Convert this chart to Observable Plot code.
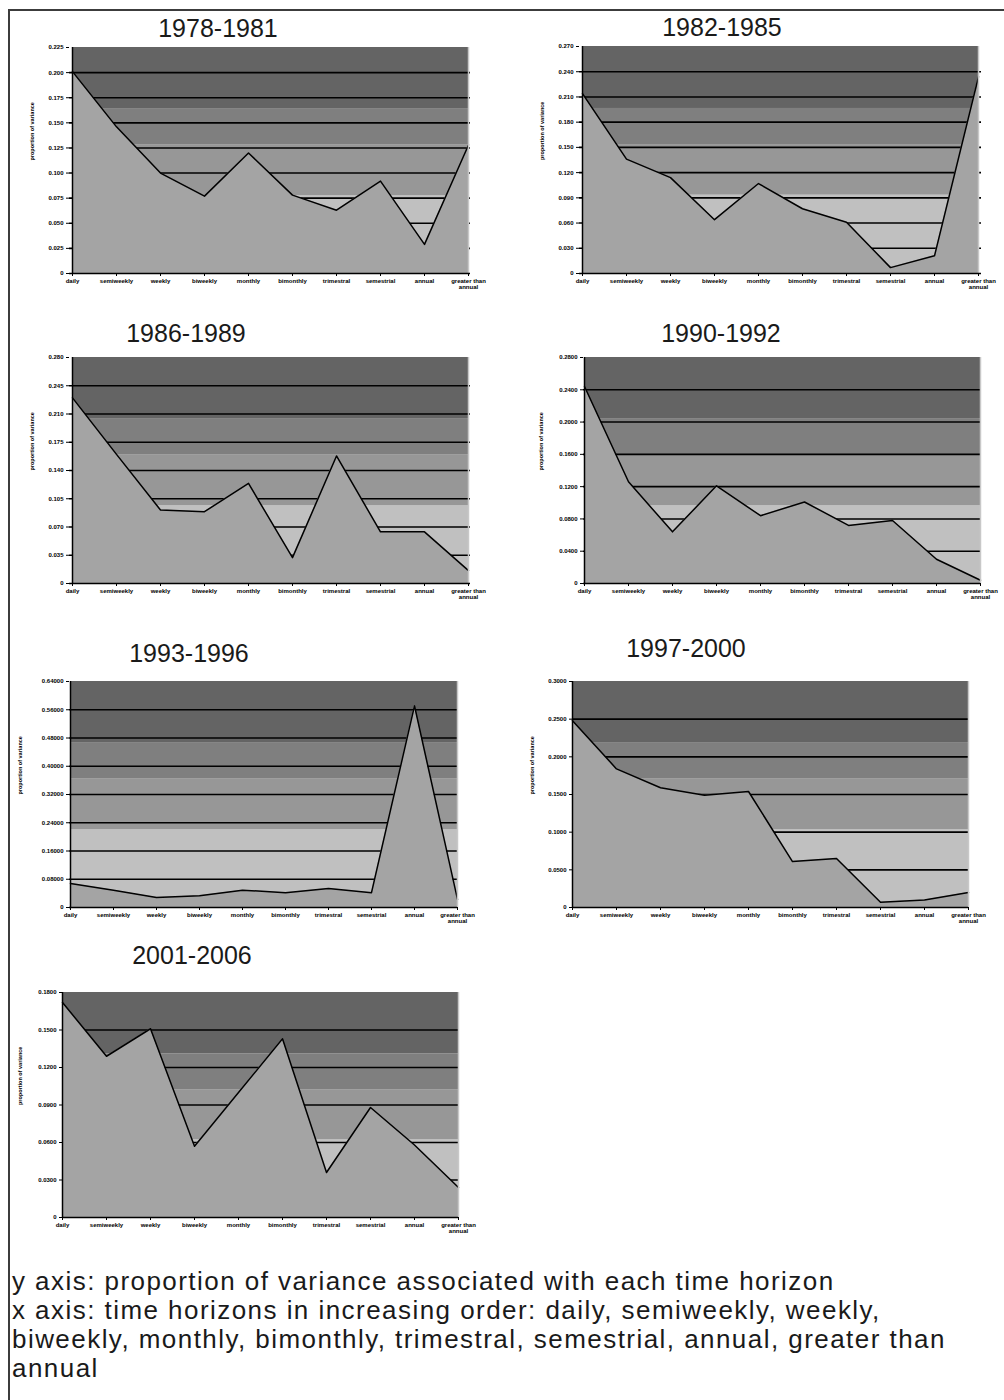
<!DOCTYPE html>
<html><head><meta charset="utf-8">
<script src="https://cdn.jsdelivr.net/npm/d3@7"></script>
<script src="https://cdn.jsdelivr.net/npm/@observablehq/plot@0.6"></script>
<style>
html,body{margin:0;padding:0;background:#fff;}
#page{position:relative;width:1004px;height:1400px;overflow:hidden;font-family:"Liberation Sans",Arial,sans-serif;}
.frame{position:absolute;left:8px;top:9px;width:1000px;height:1400px;border-left:2px solid #3c3c3c;border-top:2px solid #3c3c3c;}
.title{position:absolute;width:240px;text-align:center;font-size:25px;line-height:25px;color:#1a1a1a;white-space:nowrap;}
.chart{position:absolute;}
#caption{position:absolute;left:12px;top:1267px;font-size:26px;letter-spacing:1.45px;line-height:29px;color:#1a1a1a;white-space:nowrap;}
</style></head>
<body><div id="page"><div class="frame"></div></div>
<script>
// ---- data ----
const horizons = ["daily","semiweekly","weekly","biweekly","monthly","bimonthly","trimestral","semestrial","annual","greater than annual"];
const periods = ["1978-1981","1982-1985","1986-1989","1990-1992","1993-1996","1997-2000","2001-2006"];
const v1978_1981 = [0.201,0.146,0.100,0.077,0.120,0.078,0.063,0.092,0.029,0.128];
const v1982_1985 = [0.214,0.136,0.114,0.064,0.107,0.077,0.061,0.007,0.021,0.234];
const v1986_1989 = [0.230,0.160,0.091,0.089,0.124,0.032,0.158,0.064,0.064,0.016];
const v1990_1992 = [0.244,0.126,0.064,0.121,0.084,0.101,0.072,0.078,0.030,0.004];
const v1993_1996 = [0.068,0.049,0.028,0.033,0.049,0.042,0.054,0.042,0.571,0.023];
const v1997_2000 = [0.248,0.184,0.159,0.149,0.154,0.061,0.065,0.007,0.010,0.020];
const v2001_2006 = [0.172,0.129,0.151,0.057,0.100,0.143,0.036,0.088,0.058,0.024];
const series = [v1978_1981,v1982_1985,v1986_1989,v1990_1992,v1993_1996,v1997_2000,v2001_2006];
const yTop  = [0.225,0.27,0.28,0.28,0.64,0.30,0.18];
const yStep = [0.025,0.03,0.035,0.04,0.08,0.05,0.03];
const yDecimals = [3,3,3,4,5,4,4];
const yLabel = "proportion of variance";
const captionLines = [
  "y axis: proportion of variance associated with each time horizon",
  "x axis: time horizons in increasing order: daily, semiweekly, weekly,",
  "biweekly, monthly, bimonthly, trimestral, semestrial, annual, greater than",
  "annual"
];

// ---- layout (page coords of each plot frame) ----
const layout = [
  {L:69, R:470, T:47, B:273, lab:37, tx:218, ty:37},
  {L:579,R:981, T:46, B:273, lab:37, tx:722, ty:36},
  {L:69, R:470, T:357,B:583, lab:37, tx:186, ty:342},
  {L:583,R:980, T:357,B:583, lab:42, tx:721, ty:342},
  {L:69, R:457, T:681,B:907, lab:49, tx:189, ty:662},
  {L:572,R:968, T:681,B:907, lab:40, tx:686, ty:657},
  {L:62, R:458, T:992,B:1217,lab:42, tx:192, ty:964}
];
const M = {l:56, r:14, t:6, b:26};
const page = document.getElementById("page");

periods.forEach((p, i) => {
  const lay = layout[i];
  const top = yTop[i], step = yStep[i];
  const n = Math.round(top/step);
  const ticks = d3.range(0, n+1).map(k => +(k*step).toFixed(6));
  const fmt = d3.format("." + yDecimals[i] + "f");
  const data = horizons.map((h, j) => ({h, v: series[i][j]}));
  const first = horizons[0], last = horizons[horizons.length-1];
  const band = (a, b, c) => Plot.rect([0], {x1: () => first, x2: () => last, y1: () => top*a, y2: () => top*b, fill: c});
  const svg = Plot.plot({
    width: (lay.R - lay.L) + M.l + M.r,
    height: (lay.B - lay.T) + M.t + M.b,
    marginLeft: M.l, marginRight: M.r, marginTop: M.t, marginBottom: M.b,
    style: {background: "transparent", fontFamily: "Liberation Sans, Arial, sans-serif", fontSize: "6px", fontWeight: "bold", color: "#000", overflow: "visible"},
    x: {type: "point", domain: horizons, padding: 0},
    y: {domain: [0, top]},
    marks: [
      band(0, 0.345, "#c0c0c0"),
      band(0.345, 0.568, "#979797"),
      band(0.568, 0.727, "#7f7f7f"),
      band(0.727, 1, "#646464"),
      Plot.ruleY(ticks.slice(1, -1), {stroke: "#000", strokeWidth: 1.6}),
      Plot.areaY(data, {x: "h", y: "v", fill: "#a4a4a4"}),
      Plot.lineY(data, {x: "h", y: "v", stroke: "#000", strokeWidth: 1.5}),
      Plot.ruleX([last], {stroke: "#c8c8c8", strokeWidth: 1.5}),
      Plot.ruleY([0], {stroke: "#000", strokeWidth: 1.5}),
      Plot.ruleX([first], {stroke: "#000", strokeWidth: 1.5}),
      Plot.axisY({ticks, tickSize: 3, tickPadding: 3, tickFormat: d => d === 0 ? "0" : fmt(d), label: null, fontSize: 6, fontWeight: "bold"}),
      Plot.axisX({tickSize: 3, tickPadding: 2, tickFormat: d => d === last ? "greater than\nannual" : d, label: null, fontSize: 6, fontWeight: "bold"}),
      Plot.text([yLabel], {frameAnchor: "left", rotate: -90, dx: -lay.lab, fontSize: 5.5, fontWeight: "bold"})
    ]
  });
  svg.classList.add("chart");
  svg.style.left = (lay.L - M.l) + "px";
  svg.style.top = (lay.T - M.t) + "px";
  page.appendChild(svg);

  const t = document.createElement("div");
  t.className = "title";
  t.textContent = p;
  t.style.left = (lay.tx - 120) + "px";
  t.style.top = (lay.ty - 21.2) + "px";
  page.appendChild(t);
});

const cap = document.createElement("div");
cap.id = "caption";
captionLines.forEach((l, k) => {
  if (k) cap.appendChild(document.createElement("br"));
  cap.appendChild(document.createTextNode(l));
});
page.appendChild(cap);
</script>
</body></html>
